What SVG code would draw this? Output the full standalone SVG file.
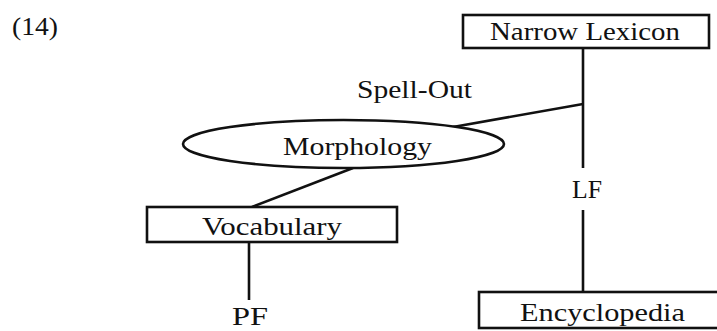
<svg xmlns="http://www.w3.org/2000/svg" width="717" height="331" viewBox="0 0 717 331">
<style>
.box{fill:#fff;stroke:#111;stroke-width:2.6}
.ln{stroke:#111;stroke-width:2.6;fill:none}
.t{font-family:"Liberation Serif","DejaVu Serif",serif;font-size:26px;fill:#111;text-anchor:middle}
</style>
<rect width="717" height="331" fill="#fff"/>
<text class="t" x="35" y="35" textLength="46" lengthAdjust="spacingAndGlyphs">(14)</text>
<g id="connectors">
<line class="ln" x1="583" y1="48" x2="583" y2="168"/>
<line class="ln" x1="583" y1="210" x2="583" y2="292"/>
<line class="ln" x1="583" y1="104" x2="453" y2="127"/>
<line class="ln" x1="353" y1="168" x2="252" y2="207"/>
<line class="ln" x1="249" y1="242" x2="249" y2="300"/>
</g>
<g id="narrow-lexicon">
<rect class="box" x="463" y="15" width="246" height="33"/>
<text class="t" x="585" y="40" textLength="190" lengthAdjust="spacingAndGlyphs">Narrow Lexicon</text>
</g>
<g id="spell-out">
<text class="t" x="414.5" y="98" textLength="115" lengthAdjust="spacingAndGlyphs">Spell-Out</text>
</g>
<g id="morphology">
<ellipse class="box" cx="343.5" cy="144" rx="160.5" ry="24"/>
<text class="t" x="357.5" y="155" textLength="149" lengthAdjust="spacingAndGlyphs">Morphology</text>
</g>
<g id="lf">
<text class="t" x="587" y="198" textLength="30" lengthAdjust="spacingAndGlyphs">LF</text>
</g>
<g id="vocabulary">
<rect class="box" x="147" y="207" width="250" height="35"/>
<text class="t" x="272" y="235" textLength="140" lengthAdjust="spacingAndGlyphs">Vocabulary</text>
</g>
<g id="pf">
<text class="t" x="250" y="325" textLength="36" lengthAdjust="spacingAndGlyphs">PF</text>
</g>
<g id="encyclopedia">
<rect class="box" x="479" y="292" width="250" height="36"/>
<text class="t" x="602.5" y="321" textLength="165" lengthAdjust="spacingAndGlyphs">Encyclopedia</text>
</g>
</svg>
